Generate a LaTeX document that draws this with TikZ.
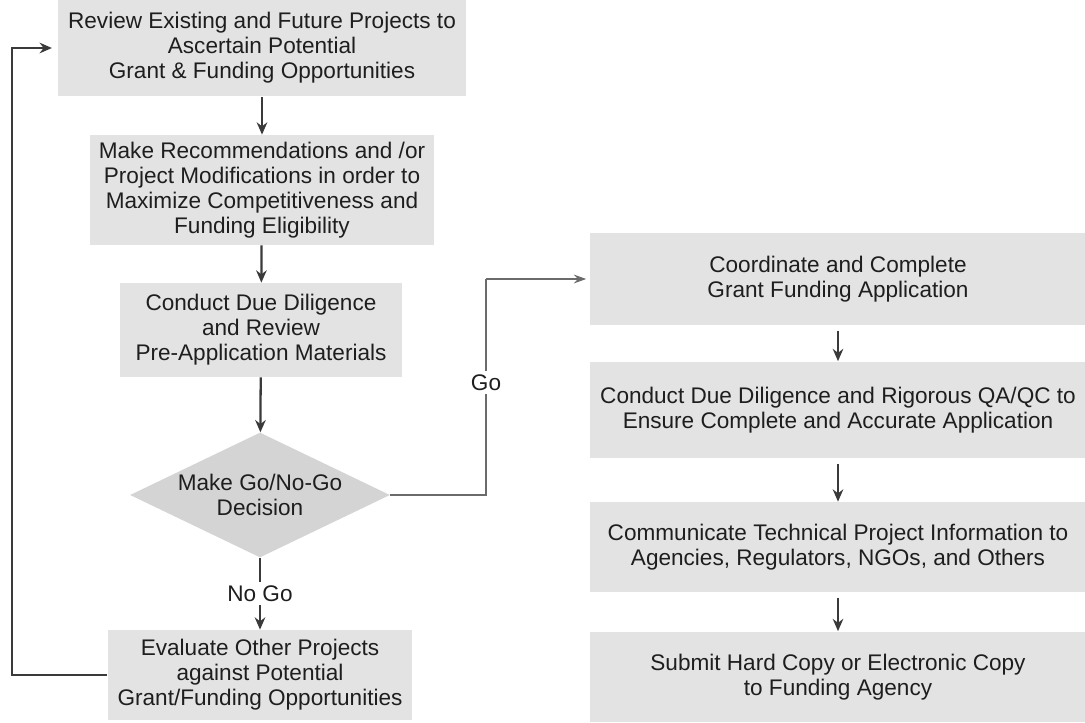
\documentclass[tikz,border=0pt]{standalone}
\usepackage{fontspec}
\setmainfont{Liberation Sans}
\usetikzlibrary{arrows.meta,shapes.geometric}
\definecolor{GrantBox}{HTML}{E3E3E3}
\definecolor{GrantDiamond}{HTML}{D4D4D4}
\definecolor{GrantLine}{HTML}{3A3A3A}
\definecolor{GrantText}{HTML}{1E1E1E}

\begin{document}
\begin{tikzpicture}[x=0.02cm,y=-0.02cm,
    every node/.style={font=\fontsize{12.85}{14.3}\selectfont,text=GrantText,align=center},
    stepbox/.style={fill=GrantBox,inner sep=0pt},
    flow/.style={-{Stealth[length=7pt,width=6pt]},line width=1.3pt,GrantLine},
    thinflow/.style={-{Stealth[length=7pt,width=5pt]},line width=0.8pt,GrantLine!75}]
    \useasboundingbox (0,0) rectangle (1085,723);
    % left column
    \node[stepbox,minimum width=8.18cm,minimum height=1.94cm] (review) at (262,48)
      {Review Existing and Future Projects to\\Ascertain Potential\\Grant \& Funding Opportunities};
    \node[stepbox,minimum width=6.9cm,minimum height=2.2cm] (recommend) at (262,190)
      {Make Recommendations and /or\\Project Modifications in order to\\Maximize Competitiveness and\\Funding Eligibility};
    \node[stepbox,minimum width=5.64cm,minimum height=1.88cm] (diligence) at (261,330)
      {Conduct Due Diligence\\and Review\\Pre-Application Materials};
    \node[fill=GrantDiamond,shape=diamond,aspect=2.1,inner sep=0pt,
      minimum width=5.2cm,minimum height=2.5cm] (decide) at (260,495)
      {Make Go/No-Go\\Decision};
    \node[stepbox,minimum width=6.1cm,minimum height=1.8cm] (evaluate) at (260,675)
      {Evaluate Other Projects\\against Potential\\Grant/Funding Opportunities};
    % right column
    \node[stepbox,minimum width=9.92cm,minimum height=1.84cm] (apply) at (838,279)
      {Coordinate and Complete\\Grant Funding Application};
    \node[stepbox,minimum width=9.92cm,minimum height=1.94cm] (qaqc) at (838,410)
      {Conduct Due Diligence and Rigorous QA/QC to\\Ensure Complete and Accurate Application};
    \node[stepbox,minimum width=9.92cm,minimum height=1.8cm] (inform) at (838,547)
      {Communicate Technical Project Information to\\Agencies, Regulators, NGOs, and Others};
    \node[stepbox,minimum width=9.92cm,minimum height=1.82cm] (submit) at (838,677)
      {Submit Hard Copy or Electronic Copy\\to Funding Agency};
    \coordinate (goturn) at (486,279);
    \coordinate (loopturn) at (12,675);

    \draw[flow] (review) -- (recommend);
    \draw[flow] (recommend) -- (diligence);
    \draw[flow] (diligence) -- (decide);
    \draw[flow] (decide.south) -- node[fill=white,inner sep=2pt]{No Go} (evaluate.north);
    \draw[flow,shorten >=3pt] (evaluate.west) -- (loopturn) |- (review.west);
    \draw[line width=0.8pt,GrantLine!75] (decide.east) -| node[pos=0.76,fill=white,inner sep=2pt]{Go} (goturn);
    \draw[thinflow,shorten >=2pt] (goturn) -- (apply.west);
    \draw[flow,shorten <=3pt] (apply) -- (qaqc);
    \draw[flow,shorten <=3pt] (qaqc) -- (inform);
    \draw[flow,shorten <=3pt] (inform) -- (submit);
  \end{tikzpicture}
\end{document}
